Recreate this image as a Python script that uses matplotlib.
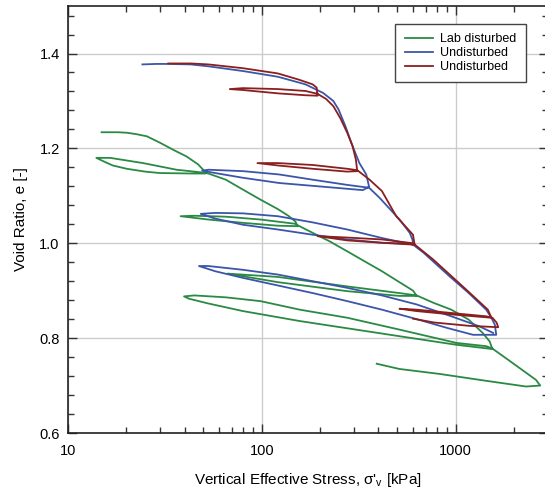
import matplotlib
matplotlib.use("Agg")
import matplotlib.pyplot as plt
from matplotlib.ticker import FixedLocator, MultipleLocator, NullFormatter

plt.rcParams['font.family'] = ['Liberation Sans', 'DejaVu Sans']

# Lab disturbed sample: stress (kPa) and void ratio
lab_stress = [14.9, 18.0, 20.1, 22.5, 25.5, 29.8, 34.9, 40.9, 47.0, 49.8, 52.0,
              51.0, 44.3, 29.8, 25.0, 20.1, 17.0, 15.2, 14.0,
              16.5, 24.4, 36.3, 49.8, 53.0,
              65.2, 80.0, 98.4, 121, 137, 149, 153,
              121, 80, 53, 38.1,
              44.9, 65.2, 98.4, 149, 153,
              183, 224, 276, 339, 417, 513, 604, 630,
              513, 276, 121, 66.5,
              121, 276, 513, 630,
              774, 951, 1169, 1380, 1500, 1549,
              1008, 514, 157, 80, 53, 42.2, 39.7,
              44.9, 65.2, 98.4, 157, 276, 513, 1008, 1439, 1549,
              1829, 2173, 2600, 2735,
              2311, 1439, 828, 513, 392]
lab_e = [1.234, 1.234, 1.233, 1.230, 1.2255, 1.212, 1.197, 1.183, 1.166, 1.155, 1.148,
         1.147, 1.147, 1.148, 1.151, 1.157, 1.164, 1.173, 1.180,
         1.180, 1.169, 1.155, 1.149, 1.147,
         1.134, 1.113, 1.092, 1.072, 1.058, 1.046, 1.036,
         1.037, 1.043, 1.050, 1.057,
         1.058, 1.056, 1.050, 1.041, 1.038,
         1.022, 1.004, 0.983, 0.962, 0.941, 0.918, 0.900, 0.889,
         0.889, 0.899, 0.918, 0.936,
         0.929, 0.909, 0.895, 0.890,
         0.874, 0.860, 0.839, 0.811, 0.793, 0.777,
         0.786, 0.804, 0.836, 0.857, 0.873, 0.883, 0.888,
         0.890, 0.886, 0.878, 0.860, 0.843, 0.818, 0.790, 0.783, 0.778,
         0.757, 0.735, 0.712, 0.700,
         0.698, 0.710, 0.7245, 0.735, 0.746]

# Undisturbed sample (blue)
und1_stress = [24.2, 28.5, 32.9, 43.0, 53.0, 80.0, 121, 168, 207, 234, 249, 270, 294,
               319, 346, 358,
               332, 224, 123, 80, 57.5, 49.2,
               53, 80, 123, 183, 276, 358,
               405, 514, 580, 599, 604,
               580, 417, 276, 183, 121, 80, 57.5, 48.4,
               57.5, 80, 121, 183, 276, 417, 604,
               684, 933, 1170, 1439, 1531, 1596, 1622,
               1231, 914, 630, 417, 276, 183, 121, 80, 57.5, 47.4,
               53, 80, 121, 183, 276, 417, 630, 951, 1324, 1563]
und1_e = [1.377, 1.378, 1.378, 1.377, 1.373, 1.363, 1.351, 1.335, 1.317, 1.300, 1.282,
          1.247, 1.205, 1.169, 1.145, 1.119,
          1.112, 1.118, 1.127, 1.138, 1.148, 1.153,
          1.155, 1.152, 1.145, 1.134, 1.123, 1.117,
          1.096, 1.050, 1.022, 1.008, 0.997,
          0.999, 1.001, 1.008, 1.018, 1.029, 1.039, 1.052, 1.062,
          1.064, 1.063, 1.057, 1.044, 1.029, 1.011, 0.997,
          0.980, 0.930, 0.895, 0.860, 0.843, 0.828, 0.807,
          0.807, 0.821, 0.840, 0.860, 0.878, 0.895, 0.911, 0.927, 0.941, 0.952,
          0.952, 0.944, 0.934, 0.920, 0.906, 0.890, 0.871, 0.846, 0.825, 0.811]

# Undisturbed sample (red)
und2_stress = [32.9, 43, 53, 80, 121, 155, 183, 192, 194,
               168, 121, 80, 68.4,
               80, 121, 168, 194,
               215, 234, 254, 276, 294, 306, 311,
               276, 183, 121, 95,
               121, 183, 276, 311,
               360, 417, 494, 603, 615,
               417, 276, 194,
               276, 417, 604,
               765, 1137, 1468, 1531,
               951, 630, 514,
               630, 951, 1439, 1549,
               1627, 1661,
               1169, 774, 604]
und2_e = [1.379, 1.379, 1.377, 1.369, 1.358, 1.345, 1.335, 1.328, 1.311,
          1.312, 1.316, 1.323, 1.325,
          1.327, 1.325, 1.321, 1.315,
          1.304, 1.289, 1.264, 1.233, 1.205, 1.176, 1.152,
          1.151, 1.157, 1.164, 1.169,
          1.169, 1.165, 1.157, 1.154,
          1.134, 1.110, 1.057, 1.018, 0.997,
          1.001, 1.006, 1.015,
          1.012, 1.008, 1.000,
          0.966, 0.902, 0.860, 0.843,
          0.850, 0.857, 0.862,
          0.860, 0.853, 0.846, 0.843,
          0.833, 0.823,
          0.826, 0.833, 0.841]

fig = plt.figure(figsize=(5.45, 4.93), dpi=100)
ax = fig.add_axes([0.1248, 0.1217, 0.8807, 0.866])

lw = 1.3
ax.plot(lab_stress, lab_e, color='#2a8a44', lw=lw, label='Lab disturbed')
ax.plot(und1_stress, und1_e, color='#3b55aa', lw=lw, label='Undisturbed')
ax.plot(und2_stress, und2_e, color='#8b1e1e', lw=lw, label='Undisturbed')

ax.set_xscale('log')
ax.set_xlim(10, 3000)
ax.set_ylim(0.6, 1.5)
ax.yaxis.set_major_locator(FixedLocator([0.6, 0.8, 1.0, 1.2, 1.4]))
ax.yaxis.set_minor_locator(MultipleLocator(0.04))
ax.set_xticks([10, 100, 1000])
ax.set_xticklabels(['10', '100', '1000'])
ax.xaxis.set_minor_formatter(NullFormatter())
ax.tick_params(which='both', direction='in', top=True, right=True,
               labelsize=10.5, color='#333333')
ax.tick_params(axis='x', which='both', pad=8)
ax.tick_params(axis='y', which='both', pad=6)
ax.tick_params(which='major', length=6.5, width=1)
ax.tick_params(which='minor', length=4.3, width=1)
ax.grid(True, which='major', color='#cccccc', lw=1)
ax.set_axisbelow(True)
for s in ax.spines.values():
    s.set_color('#222222')
    s.set_linewidth(1.2)

ax.set_xlabel("Vertical Effective Stress, σ'$_\\mathregular{v}$ [kPa]", fontsize=11, labelpad=9)
ax.set_ylabel('Void Ratio, e [-]', fontsize=11, labelpad=8)

leg = ax.legend(loc='upper right', bbox_to_anchor=(0.954, 0.958), borderaxespad=0,
                fontsize=9, fancybox=False, framealpha=1, edgecolor='#444444',
                handlelength=2.3, handletextpad=0.55, borderpad=0.75,
                labelspacing=0.15)
leg.get_frame().set_linewidth(1.0)

fig.savefig('out.png', dpi=100)
